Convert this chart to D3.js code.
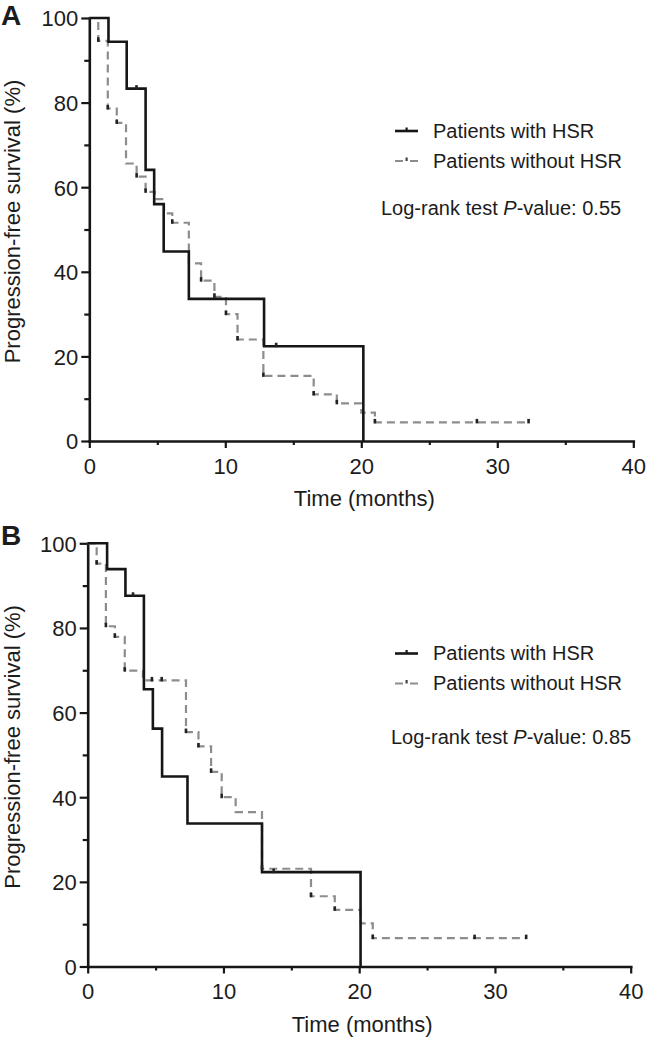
<!DOCTYPE html>
<html><head><meta charset="utf-8">
<script src="https://cdn.jsdelivr.net/npm/d3@7"></script>
<style>
body{margin:0;background:#fff}
svg{display:block}
text{font-family:"Liberation Sans",Arial,Helvetica,sans-serif;fill:#1c1c1c}
</style>
</head><body>
<svg id="c" width="647" height="1038"></svg>
<script>
// ---------- data ----------
const xTicks = [0, 10, 20, 30, 40];
const xMinor = [5, 15, 25, 35];
const yTicks = [0, 20, 40, 60, 80, 100];
const yMinor = [10, 30, 50, 70, 90];
const seriesNames = ["Patients with HSR", "Patients without HSR"];
const panelLabels = ["A", "B"];
const pValues = ["0.55", "0.85"];
const xTitle = "Time (months)";
const yTitle = "Progression-free survival (%)";

// Panel A – patients with HSR
const aWithT = [0, 1.41, 2.75, 4.14, 4.77, 5.47, 7.32, 12.85, 20.15];
const aWithS = [100, 94.4, 83.3, 64.1, 56.0, 44.8, 33.6, 22.4, 0];
const aWithCensor = [3.47, 13.74];
// Panel A – patients without HSR
const aWithoutT = [0, 0.66, 1.36, 2.02, 2.70, 3.48, 4.14, 4.82, 5.50, 6.10, 7.32, 8.22, 9.20, 10.05, 10.90, 12.80, 16.50, 18.20, 20.00, 21.00, 32.30];
const aWithoutS = [100, 94.6, 78.6, 75.2, 65.6, 62.5, 58.9, 57.2, 53.8, 51.6, 42.0, 37.9, 34.1, 30.0, 24.0, 15.4, 11.0, 8.9, 6.7, 4.4, 4.4];
const aWithoutCensor = [0.66, 1.36, 2.02, 3.48, 4.14, 6.10, 8.22, 9.20, 10.05, 10.90, 12.80, 16.50, 18.20, 21.00, 28.50, 32.30];

// Panel B – patients with HSR
const bWithT = [0, 1.43, 2.78, 4.14, 4.80, 5.48, 7.35, 12.84, 20.10];
const bWithS = [100, 93.9, 87.6, 65.5, 56.2, 44.9, 33.8, 22.3, 0];
const bWithCensor = [3.34, 13.70];
// Panel B – patients without HSR
const bWithoutT = [0, 0.66, 1.34, 2.00, 2.73, 4.07, 7.24, 8.16, 9.09, 9.87, 10.90, 12.84, 16.45, 18.20, 20.10, 21.00, 32.30];
const bWithoutS = [100, 95.2, 80.4, 77.9, 69.9, 67.6, 55.4, 52.0, 46.0, 40.0, 36.5, 23.1, 16.6, 13.4, 10.2, 6.7, 6.7];
const bWithoutCensor = [0.66, 1.34, 2.00, 2.73, 4.73, 5.45, 7.24, 8.16, 9.09, 9.87, 12.84, 16.45, 18.20, 21.00, 28.50, 32.30];

// ---------- layout ----------
const panels = [
  {x0: 89.3, x1: 633.3, yb: 441, yt: 18, letterY: 25, legY: 131, logX: 381, logY: 215,
   withT: aWithT, withS: aWithS, withC: aWithCensor, woT: aWithoutT, woS: aWithoutS, woC: aWithoutCensor},
  {x0: 87.7, x1: 630.7, yb: 966.5, yt: 543.3, letterY: 545, legY: 653.5, logX: 391, logY: 744,
   withT: bWithT, withS: bWithS, withC: bWithCensor, woT: bWithoutT, woS: bWithoutS, woC: bWithoutCensor}
];

const svg = d3.select("#c");
const INK = "#161616", GREY = "#8d8d8d";

function stepValue(T, S, t) {
  let v = S[0];
  for (let i = 0; i < T.length; i++) if (T[i] <= t + 1e-9) v = S[i];
  return v;
}

panels.forEach((p, i) => {
  const g = svg.append("g");
  const x = d3.scaleLinear().domain([0, 40]).range([p.x0, p.x1]);
  const y = d3.scaleLinear().domain([0, 100]).range([p.yb, p.yt]);

  // minor ticks
  g.append("g").attr("transform", `translate(0,${p.yb})`)
    .call(d3.axisBottom(x).tickValues(xMinor).tickSize(4).tickFormat(""))
    .call(s => s.select(".domain").remove());
  g.append("g").attr("transform", `translate(${p.x0},0)`)
    .call(d3.axisLeft(y).tickValues(yMinor).tickSize(5).tickFormat(""))
    .call(s => s.select(".domain").remove());

  // major axes
  const xa = g.append("g").attr("transform", `translate(0,${p.yb})`)
    .call(d3.axisBottom(x).tickValues(xTicks).tickSize(7).tickSizeOuter(0).tickPadding(10));
  const ya = g.append("g").attr("transform", `translate(${p.x0},0)`)
    .call(d3.axisLeft(y).tickValues(yTicks).tickSize(8).tickSizeOuter(0).tickPadding(3));

  g.selectAll(".tick line").attr("stroke", INK).attr("stroke-width", 2.2);
  g.selectAll(".domain").attr("stroke", INK).attr("stroke-width", 2.6).attr("stroke-linecap", "square");
  g.selectAll(".tick text").attr("font-size", 22).attr("fill", "#1c1c1c")
    .style("font-family", '"Liberation Sans",Arial,sans-serif');
  ya.selectAll(".tick text").attr("dy", "0.36em");

  // axis titles
  g.append("text").attr("x", (p.x0 + p.x1) / 2 + 3).attr("y", p.yb + 65)
    .attr("text-anchor", "middle").attr("font-size", 22).text(xTitle);
  g.append("text").attr("transform", `translate(20,${(p.yb + p.yt) / 2 - 8}) rotate(-90)`)
    .attr("text-anchor", "middle").attr("font-size", 22).text(yTitle);

  // panel letter
  g.append("text").attr("x", 1).attr("y", p.letterY).attr("font-size", 28)
    .attr("font-weight", "bold").attr("fill", "#111").text(panelLabels[i]);

  // curves
  const line = d3.line().x(d => x(d[0])).y(d => y(d[1])).curve(d3.curveStepAfter);
  const wo = p.woT.map((t, k) => [t, p.woS[k]]);
  const wi = p.withT.map((t, k) => [t, p.withS[k]]);
  g.append("path").datum(wo).attr("d", line).attr("fill", "none")
    .attr("stroke", GREY).attr("stroke-width", 2.2).attr("stroke-dasharray", "8,5");
  g.append("path").datum(wi).attr("d", line).attr("fill", "none")
    .attr("stroke", INK).attr("stroke-width", 2.6);

  // censor marks
  const marks = p.woC.map(t => [t, stepValue(p.woT, p.woS, t)])
    .concat(p.withC.map(t => [t, stepValue(p.withT, p.withS, t)]));
  g.selectAll(".cm").data(marks).join("rect")
    .attr("x", d => x(d[0]) - 1.3).attr("y", d => y(d[1]) - 3.5)
    .attr("width", 2.6).attr("height", 4.5).attr("fill", "#222");

  // legend
  const lx0 = 395, lx1 = 418, tx = 433;
  g.append("line").attr("x1", lx0).attr("x2", lx1).attr("y1", p.legY).attr("y2", p.legY)
    .attr("stroke", INK).attr("stroke-width", 2.6);
  g.append("rect").attr("x", (lx0 + lx1) / 2 - 1).attr("y", p.legY - 3.5).attr("width", 2.2).attr("height", 3.5).attr("fill", INK);
  g.append("line").attr("x1", lx0).attr("x2", lx1).attr("y1", p.legY + 30).attr("y2", p.legY + 30)
    .attr("stroke", GREY).attr("stroke-width", 2.2).attr("stroke-dasharray", "8,7");
  g.append("rect").attr("x", (lx0 + lx1) / 2 - 1).attr("y", p.legY + 26.5).attr("width", 2.2).attr("height", 3.5).attr("fill", "#444");
  g.append("text").attr("x", tx).attr("y", p.legY + 6.5).attr("font-size", 20).text(seriesNames[0]);
  g.append("text").attr("x", tx).attr("y", p.legY + 36.5).attr("font-size", 20).text(seriesNames[1]);

  const lt = g.append("text").attr("x", p.logX).attr("y", p.logY).attr("font-size", 20);
  lt.append("tspan").text("Log-rank test ");
  lt.append("tspan").attr("font-style", "italic").text("P");
  lt.append("tspan").text("-value: " + pValues[i]);
});
</script>
</body></html>
